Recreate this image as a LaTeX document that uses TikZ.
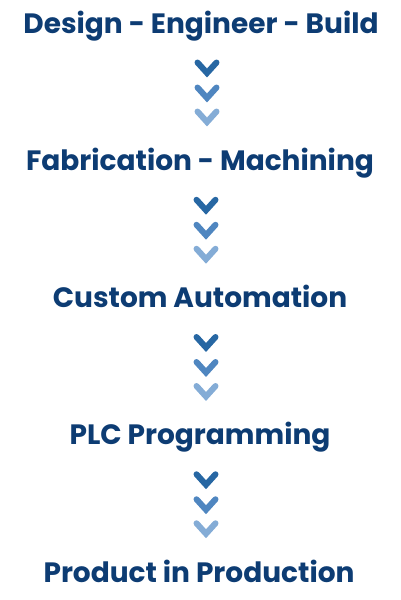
\documentclass[tikz,border=0pt]{standalone}
\usepackage{fontspec}
\setmainfont{Poppins}
\definecolor{titleblue}{HTML}{0D3C73}
\definecolor{chevdark}{HTML}{2767A3}
\definecolor{chevmid}{HTML}{4F86C0}
\definecolor{chevlight}{HTML}{84ACD6}
\newcommand\chevron[2]{
    \draw[#2, line width=6pt, line cap=round, line join=miter,
    shift={(6,#1)}] (-9.5,-5.5) -- (0,5) -- (9.5,-5.5);
}
\newcommand\chevrons[1]{
    \begin{scope}[shift={(#1.base)}]
        \chevron{35}{chevdark}
        \chevron{60}{chevmid}
        \chevron{84}{chevlight}
    \end{scope}
}
\tikzset{stage/.style={text=titleblue, font=\fontsize{28}{32}\selectfont\bfseries,
    anchor=base, inner sep=0pt}}

\begin{document}
\begin{tikzpicture}[x=1pt,y=-1pt]
        \useasboundingbox (0,0) rectangle (400,600);
        \node[stage] (design) at (201,33) {Design - Engineer - Build};
        \node[stage] (fab) at (200,170.25) {Fabrication - Machining};
        \node[stage] (auto) at (200,307.5) {Custom Automation};
        \node[stage] (plc) at (200,444.75) {PLC Programming};
        \node[stage] (product) at (199,582) {Product in Production};
        \chevrons{design}
        \chevrons{fab}
        \chevrons{auto}
        \chevrons{plc}
\end{tikzpicture}
\end{document}
